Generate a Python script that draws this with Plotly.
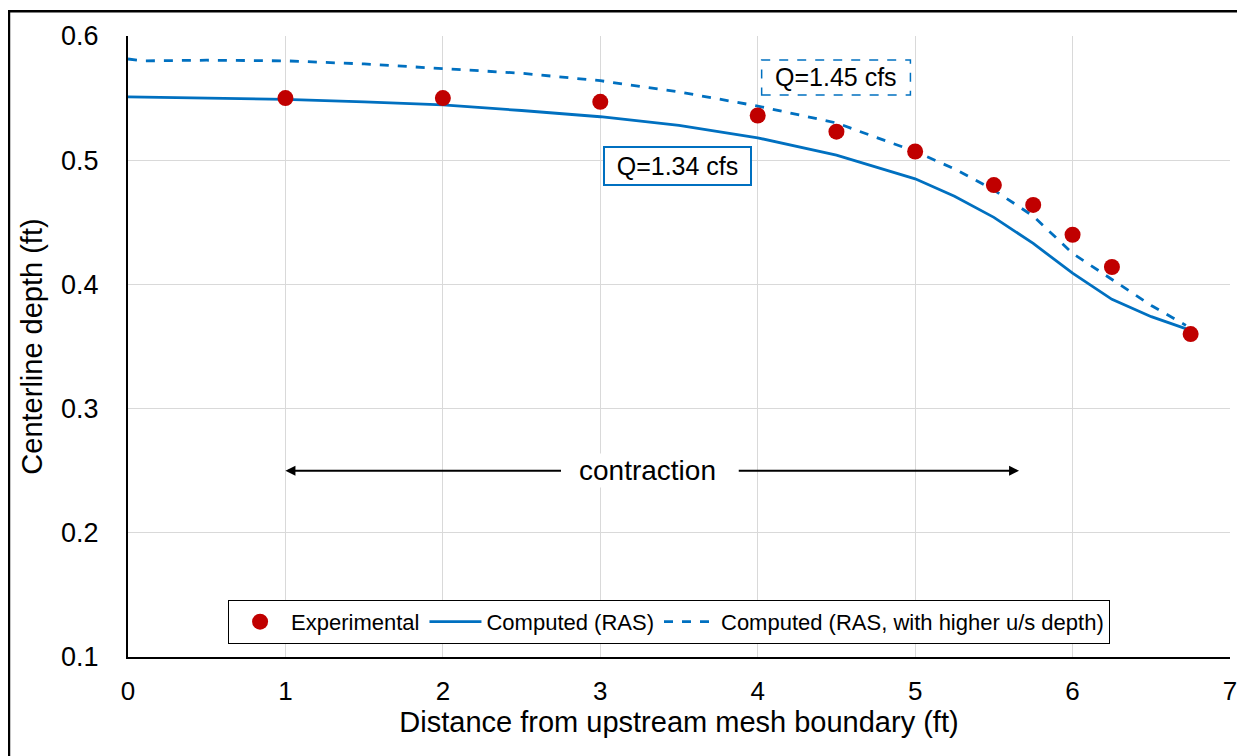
import plotly.graph_objects as go

# Experimental data
exp_x = [1, 2, 3, 4, 4.5, 5, 5.5, 5.75, 6, 6.25, 6.75]
exp_y = [0.550, 0.550, 0.547, 0.536, 0.523, 0.507, 0.480, 0.464, 0.440, 0.414, 0.360]

# Computed (RAS)
ras_x = [0, 0.5, 1, 1.5, 2, 2.5, 3, 3.5, 4, 4.5, 5, 5.25, 5.5, 5.75, 6, 6.25, 6.5, 6.75]
ras_y = [0.551, 0.550, 0.549, 0.547, 0.5445, 0.540, 0.535, 0.528, 0.518, 0.504, 0.485, 0.471,
         0.454, 0.433, 0.409, 0.388, 0.374, 0.363]

# Computed (RAS, with higher u/s depth)
hi_x = [0, 0.1, 0.5, 1, 1.5, 2, 2.5, 3, 3.5, 4, 4.5, 5, 5.25, 5.5, 5.75, 6, 6.25, 6.5, 6.72]
hi_y = [0.5815, 0.580, 0.5805, 0.580, 0.5775, 0.574, 0.570, 0.564, 0.555, 0.5436, 0.530, 0.507,
        0.493, 0.476, 0.455, 0.425, 0.404, 0.383, 0.367]

BLUE = "#0070C0"
RED = "#C00000"
FONT = "Liberation Sans, Arial, sans-serif"

fig = go.Figure()
fig.add_trace(go.Scatter(x=ras_x, y=ras_y, mode="lines", name="Computed (RAS)", legendrank=2,
                         line=dict(color=BLUE, width=2.8)))
fig.add_trace(go.Scatter(x=hi_x, y=hi_y, mode="lines", name="Computed (RAS, with higher u/s depth)",
                         legendrank=3, line=dict(color=BLUE, width=2.8, dash="dash")))
fig.add_trace(go.Scatter(x=exp_x, y=exp_y, mode="markers", name="Experimental", legendrank=1,
                         marker=dict(color=RED, size=16)))

# page body has an 8px margin: figure is 1237x748 placed at (8,8)
fig.update_layout(
    width=1237, height=748,
    margin=dict(l=120, r=15, t=28, b=99, autoexpand=False),
    paper_bgcolor="white", plot_bgcolor="white",
    font=dict(family=FONT, color="black"),
    showlegend=True,
    legend=dict(orientation="h", x=0.491, y=0.092, xanchor="center", yanchor="top",
                bgcolor="white", bordercolor="black", borderwidth=1,
                font=dict(size=22), itemwidth=52),
)
fig.update_xaxes(range=[0, 7], dtick=1, showgrid=True, gridcolor="#D9D9D9", gridwidth=1,
                 showline=True, linecolor="black", linewidth=2, ticks="outside", ticklen=10,
                 tickcolor="rgba(0,0,0,0)", zeroline=False, automargin=False,
                 tickfont=dict(size=26),
                 title=dict(text="Distance from upstream mesh boundary (ft)", font=dict(size=29),
                            standoff=2))
fig.update_yaxes(range=[0.1, 0.6], dtick=0.1, tickformat=".1f", showgrid=True, gridcolor="#D9D9D9",
                 gridwidth=1, showline=True, linecolor="black", linewidth=2, ticks="outside",
                 ticklen=22, tickcolor="rgba(0,0,0,0)", zeroline=False, automargin=False,
                 tickfont=dict(size=27),
                 title=dict(text="Centerline depth (ft)", font=dict(size=29), standoff=10))

# outer figure border
fig.add_shape(type="rect", xref="paper", yref="paper", x0=-0.108, x1=1.05, y0=-0.3, y1=1.040,
              line=dict(color="black", width=2.5), layer="above")

# Q=1.34 cfs annotation (solid box)
fig.add_annotation(x=3.49, y=0.4953, xref="x", yref="y", text="Q=1.34 cfs", showarrow=False,
                   font=dict(size=25), bgcolor="white", bordercolor=BLUE, borderwidth=2,
                   borderpad=3, width=139, height=30)
# Q=1.45 cfs annotation (dashed box)
fig.add_shape(type="rect", xref="x", yref="y", x0=4.025, x1=4.97, y0=0.5525, y1=0.5807,
              line=dict(color=BLUE, width=1.5, dash="dash"), fillcolor="white", layer="above")
fig.add_annotation(x=4.5, y=0.5666, xref="x", yref="y", text="Q=1.45 cfs", showarrow=False,
                   font=dict(size=25))

# contraction arrows
fig.add_annotation(x=1.0, y=0.25, ax=2.76, ay=0.25, xref="x", yref="y", axref="x", ayref="y",
                   text="", showarrow=True, arrowhead=2, arrowsize=1, arrowwidth=2, arrowcolor="black")
fig.add_annotation(x=5.66, y=0.25, ax=3.87, ay=0.25, xref="x", yref="y", axref="x", ayref="y",
                   text="", showarrow=True, arrowhead=2, arrowsize=1, arrowwidth=2, arrowcolor="black")
fig.add_annotation(x=3.3, y=0.25, xref="x", yref="y", text="contraction", showarrow=False,
                   font=dict(size=28), bgcolor="white")

fig.write_html("out.html")
